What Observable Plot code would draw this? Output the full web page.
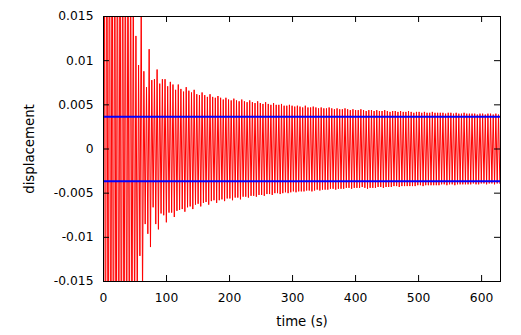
<!DOCTYPE html>
<html>
<head>
<meta charset="utf-8">
<script src="https://cdn.jsdelivr.net/npm/d3@7"></script>
<script src="https://cdn.jsdelivr.net/npm/@observablehq/plot@0.6"></script>
<style>
  html, body { margin: 0; padding: 0; background: #fff; }
  #chart { width: 521px; height: 335px; }
</style>
</head>
<body>
<div id="chart"></div>
<script>
// Sampling of the oscillation: one upper and one lower turning point per cycle
const startTime = 0;          // s
const firstUpper = 1.05;      // s, time of first upper turning point
const cyclePeriod = 4.2;      // s, spacing of turning points

// Upper turning points (displacement), one per cycle
const upperPeaks = [
  0.035, 0.04, 0.038, 0.036, 0.034, 0.033, 0.031, 0.03, 0.028, 0.026, 0.024,
  0.02, 0.0128, 0.0095, 0.0165, 0.0088, 0.007, 0.0113, 0.0078, 0.0079, 0.009,
  0.0074, 0.0079, 0.0079, 0.0071, 0.0076, 0.0073, 0.0067, 0.0073,
  0.0068, 0.0065, 0.0070, 0.0066, 0.0064, 0.0067, 0.0062, 0.0061, 0.0064,
  0.0061, 0.0059, 0.0062, 0.0059, 0.0058, 0.0060, 0.0058, 0.0056, 0.0058,
  0.0056, 0.0055, 0.0057, 0.0055, 0.0054, 0.0056,
  0.0054, 0.0053, 0.0055, 0.0053, 0.0052, 0.0054, 0.0052, 0.0051, 0.0053,
  0.0051, 0.0050, 0.0052, 0.0050, 0.0050, 0.0051, 0.0049, 0.0049, 0.0050,
  0.0049, 0.0048, 0.0049, 0.0048, 0.0047, 0.0049, 0.0047, 0.0047, 0.0048,
  0.0047, 0.0046, 0.0047, 0.0046, 0.0046, 0.0047, 0.0046, 0.0045, 0.0046,
  0.0045, 0.0045, 0.0046, 0.0045, 0.0044, 0.0045, 0.0044, 0.0044, 0.0045,
  0.0044, 0.0043, 0.0044, 0.0044, 0.0043, 0.0044, 0.0043, 0.0043, 0.0044,
  0.0043, 0.0042, 0.0043, 0.0043, 0.0042, 0.0043, 0.0042, 0.0042, 0.0043,
  0.0042, 0.0041, 0.0042, 0.0042, 0.0041, 0.0042, 0.0041, 0.0041, 0.0042,
  0.0041, 0.0041, 0.0041, 0.0041, 0.0040, 0.0041, 0.0041, 0.0040, 0.0041,
  0.0040, 0.0040, 0.0041, 0.0040, 0.0040, 0.0040, 0.0040, 0.0039, 0.0040,
  0.0040, 0.0039, 0.0040, 0.0040, 0.0039, 0.0040, 0.0039
];

// Lower turning points (displacement), half a cycle after each upper one
const lowerPeaks = [
  -0.035, -0.04, -0.038, -0.036, -0.035, -0.033, -0.031, -0.03, -0.028, -0.026, -0.025,
  -0.02, -0.018, -0.0121, -0.0165, -0.0085, -0.0096, -0.0111, -0.0066, -0.0085, -0.0091,
  -0.0073, -0.0075, -0.0083, -0.0072, -0.0072, -0.0077, -0.0070, -0.0069,
  -0.0068, -0.0071, -0.0066, -0.0065, -0.0068, -0.0063, -0.0062, -0.0065, -0.0061,
  -0.0060, -0.0063, -0.0059, -0.0058, -0.0061, -0.0058, -0.0057, -0.0059, -0.0056,
  -0.0056, -0.0058, -0.0055, -0.0055, -0.0057, -0.0054,
  -0.0054, -0.0055, -0.0053, -0.0053, -0.0054, -0.0052, -0.0052, -0.0053, -0.0051,
  -0.0051, -0.0052, -0.0050, -0.0050, -0.0051, -0.0050, -0.0049, -0.0050, -0.0049,
  -0.0048, -0.0049, -0.0048, -0.0048, -0.0048, -0.0047, -0.0047, -0.0048, -0.0047,
  -0.0046, -0.0047, -0.0046, -0.0046, -0.0046, -0.0045, -0.0045, -0.0046, -0.0045,
  -0.0045, -0.0045, -0.0044, -0.0044, -0.0045, -0.0044, -0.0044, -0.0044, -0.0043,
  -0.0044, -0.0045, -0.0044, -0.0044, -0.0044, -0.0043, -0.0043, -0.0044, -0.0043,
  -0.0043, -0.0043, -0.0042, -0.0042, -0.0043, -0.0042, -0.0042, -0.0042, -0.0042,
  -0.0042, -0.0042, -0.0041, -0.0041, -0.0042, -0.0041, -0.0041, -0.0041, -0.0041,
  -0.0041, -0.0041, -0.0040, -0.0040, -0.0041, -0.0040, -0.0040, -0.0041, -0.0040,
  -0.0040, -0.0040, -0.0040, -0.0040, -0.0040, -0.0039, -0.0040, -0.0040, -0.0039,
  -0.0039, -0.0040, -0.0039, -0.0039, -0.0040, -0.0039, -0.0039
];

// Reference levels (blue lines)
const referenceLevels = [0.00365, -0.00365];

// Axes
const xDomain = [0, 630];
const yDomain = [-0.015, 0.015];
const xTicks = [0, 100, 200, 300, 400, 500, 600];
const yTicks = [-0.015, -0.01, -0.005, 0, 0.005, 0.01, 0.015];
const xLabel = "time (s)";
const yLabel = "displacement";

// Build the line table from the turning points
const signal = [{t: startTime, d: 0}];
for (let k = 0; k < upperPeaks.length; k++) {
  signal.push({t: firstUpper + k * cyclePeriod, d: upperPeaks[k]});
  if (k < lowerPeaks.length) signal.push({t: firstUpper + (k + 0.5) * cyclePeriod, d: lowerPeaks[k]});
}

const W = 521, H = 335;
const mL = 103, mR = 21, mT = 16, mB = 54;
const innerW = W - mL - mR, innerH = H - mT - mB;
const tick = 6;

const chart = Plot.plot({
  width: W,
  height: H,
  marginLeft: mL,
  marginRight: mR,
  marginTop: mT,
  marginBottom: mB,
  style: {fontFamily: "DejaVu Sans", fontSize: "12px", background: "#fff", color: "#000"},
  x: {domain: xDomain},
  y: {domain: yDomain},
  marks: [
    Plot.line(signal, {x: "t", y: "d", stroke: "#ff0000", strokeWidth: 1, clip: true}),
    Plot.ruleY(referenceLevels, {stroke: "#0000ff", strokeWidth: 2}),
    Plot.ruleX(xTicks, {stroke: "#000", insetTop: innerH - tick}),
    Plot.ruleX(xTicks, {stroke: "#000", insetBottom: innerH - tick}),
    Plot.ruleY(yTicks, {stroke: "#000", insetRight: innerW - tick}),
    Plot.ruleY(yTicks, {stroke: "#000", insetLeft: innerW - tick}),
    Plot.frame({stroke: "#000", strokeWidth: 1}),
    Plot.axisX(xTicks, {
      tickSize: 0, tickPadding: 12, tickFormat: d => String(d), label: null, fontSize: 12.3
    }),
    Plot.axisX([], {
      tickSize: 0, label: xLabel, labelAnchor: "center", labelArrow: "none", labelOffset: 44, fontSize: 13.3
    }),
    Plot.axisY(yTicks, {
      tickSize: 0, tickPadding: 10, tickFormat: d => String(d), label: null, fontSize: 12.3
    }),
    Plot.axisY([], {
      tickSize: 0, label: yLabel, labelAnchor: "center", labelArrow: "none", labelOffset: 79, fontSize: 13.3
    })
  ]
});
document.getElementById("chart").appendChild(chart);
</script>
</body>
</html>
